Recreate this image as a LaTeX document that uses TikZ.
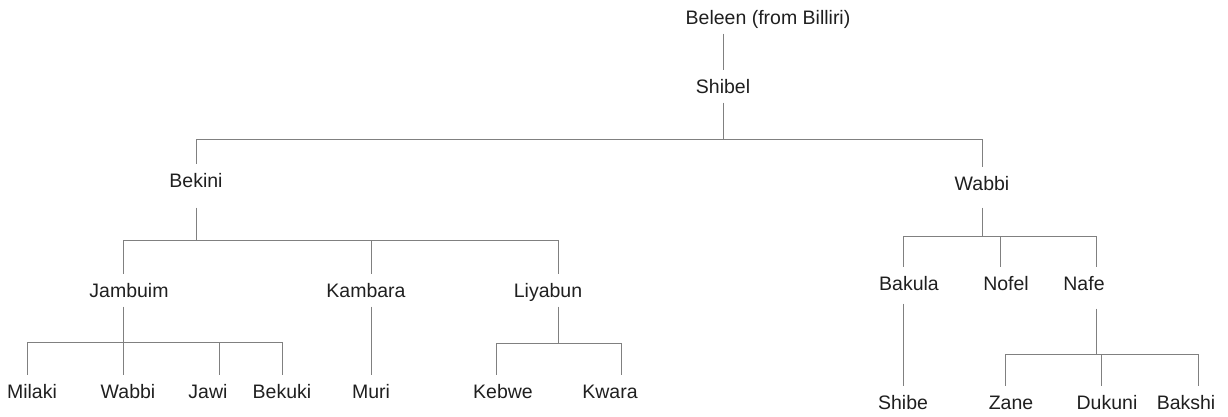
\documentclass[tikz,border=0pt]{standalone}
\usepackage{fontspec}
\setmainfont{Liberation Sans}
\tikzset{
	% ---- default
	every path/.style={line width=1pt},
	every node/.style={font=\fontsize{19.5}{23}\selectfont},
	% ---- custom
	person/.style={anchor=base, inner xsep=0pt, inner ysep=9pt,
		text height=14pt, text depth=0pt, text=black!88},
	link/.style={draw=black!50},
}

\begin{document}
\begin{tikzpicture}[x=1pt, y=-1pt]

% frame %{{{2

	\useasboundingbox (0,0) rectangle (1228,416);

% people %{{{2

	\node[person] (beleen) at (768,24) {Beleen (from Billiri)};
	\node[person] (shibel) at (723,93) {Shibel};

	\node[person, text depth=11pt] (bekini) at (196,187) {Bekini};
	\node[person, text depth=8pt] (wabbi) at (982,190) {Wabbi};

	\node[person] (jambuim) at (129,297) {Jambuim};
	\node[person] (kambara) at (366,297) {Kambara};
	\node[person] (liyabun) at (548,297) {Liyabun};

	\node[person, text depth=4pt] (bakula) at (909,290) {Bakula};
	\node[person] (nofel) at (1006,290) {Nofel};
	\node[person, text depth=9pt] (nafe) at (1084,290) {Nafe};

	\node[person] (milaki) at (32,398) {Milaki};
	\node[person] (wabbi jr) at (128,398) {Wabbi};
	\node[person] (jawi) at (208,398) {Jawi};
	\node[person] (bekuki) at (282,398) {Bekuki};
	\node[person] (muri) at (371,398) {Muri};
	\node[person] (kebwe) at (503,398) {Kebwe};
	\node[person] (kwara) at (610,398) {Kwara};

	\node[person] (shibe) at (903,409) {Shibe};
	\node[person] (zane) at (1011,409) {Zane};
	\node[person] (dukuni) at (1107,409) {Dukuni};
	\node[person] (bakshi) at (1186,409) {Bakshi};

% bars %{{{2

	\coordinate (shibel bar) at (723,139);
	\coordinate (bekini bar) at (196,240);
	\coordinate (wabbi bar) at (982,236);
	\coordinate (jambuim bar) at (123,342);
	\coordinate (liyabun bar) at (558,343);
	\coordinate (nafe bar) at (1096,354);

% links %{{{2

	\draw[link] (beleen.south -| shibel.north) -- (shibel.north);

	\draw[link] (shibel.south) -- (shibel bar);
	\draw[link] (bekini.north) |- (shibel bar);
	\draw[link] (wabbi.north) |- (shibel bar);

	\draw[link] (bekini.south) -- (bekini bar);
	\draw[link] ([xshift=-6pt]jambuim.north) |- (bekini bar);
	\draw[link] ([xshift=5pt]kambara.north) |- (bekini bar);
	\draw[link] ([xshift=10pt]liyabun.north) |- (bekini bar);

	\draw[link] ([xshift=-6pt]jambuim.south) -- (jambuim bar);
	\draw[link] ([xshift=-5pt]milaki.north) |- (jambuim bar);
	\draw[link] ([xshift=-5pt]wabbi jr.north) |- (jambuim bar);
	\draw[link] ([xshift=11pt]jawi.north) |- (jambuim bar);
	\draw[link] (bekuki.north) |- (jambuim bar);

	\draw[link] ([xshift=5pt]kambara.south) -- (muri.north);

	\draw[link] ([xshift=10pt]liyabun.south) -- (liyabun bar);
	\draw[link] ([xshift=-7pt]kebwe.north) |- (liyabun bar);
	\draw[link] ([xshift=11pt]kwara.north) |- (liyabun bar);

	\draw[link] (wabbi.south) -- (wabbi bar);
	\draw[link] ([xshift=-6pt]bakula.north) |- (wabbi bar);
	\draw[link] ([xshift=-6pt]nofel.north) |- (wabbi bar);
	\draw[link] ([xshift=12pt]nafe.north) |- (wabbi bar);

	\draw[link] ([xshift=-6pt]bakula.south) -- (shibe.north);

	\draw[link] ([xshift=12pt]nafe.south) -- (nafe bar);
	\draw[link] ([xshift=-6pt]zane.north) |- (nafe bar);
	\draw[link] ([xshift=-6pt]dukuni.north) |- (nafe bar);
	\draw[link] ([xshift=12pt]bakshi.north) |- (nafe bar);

% closing %{{{2

\end{tikzpicture}
\end{document}
